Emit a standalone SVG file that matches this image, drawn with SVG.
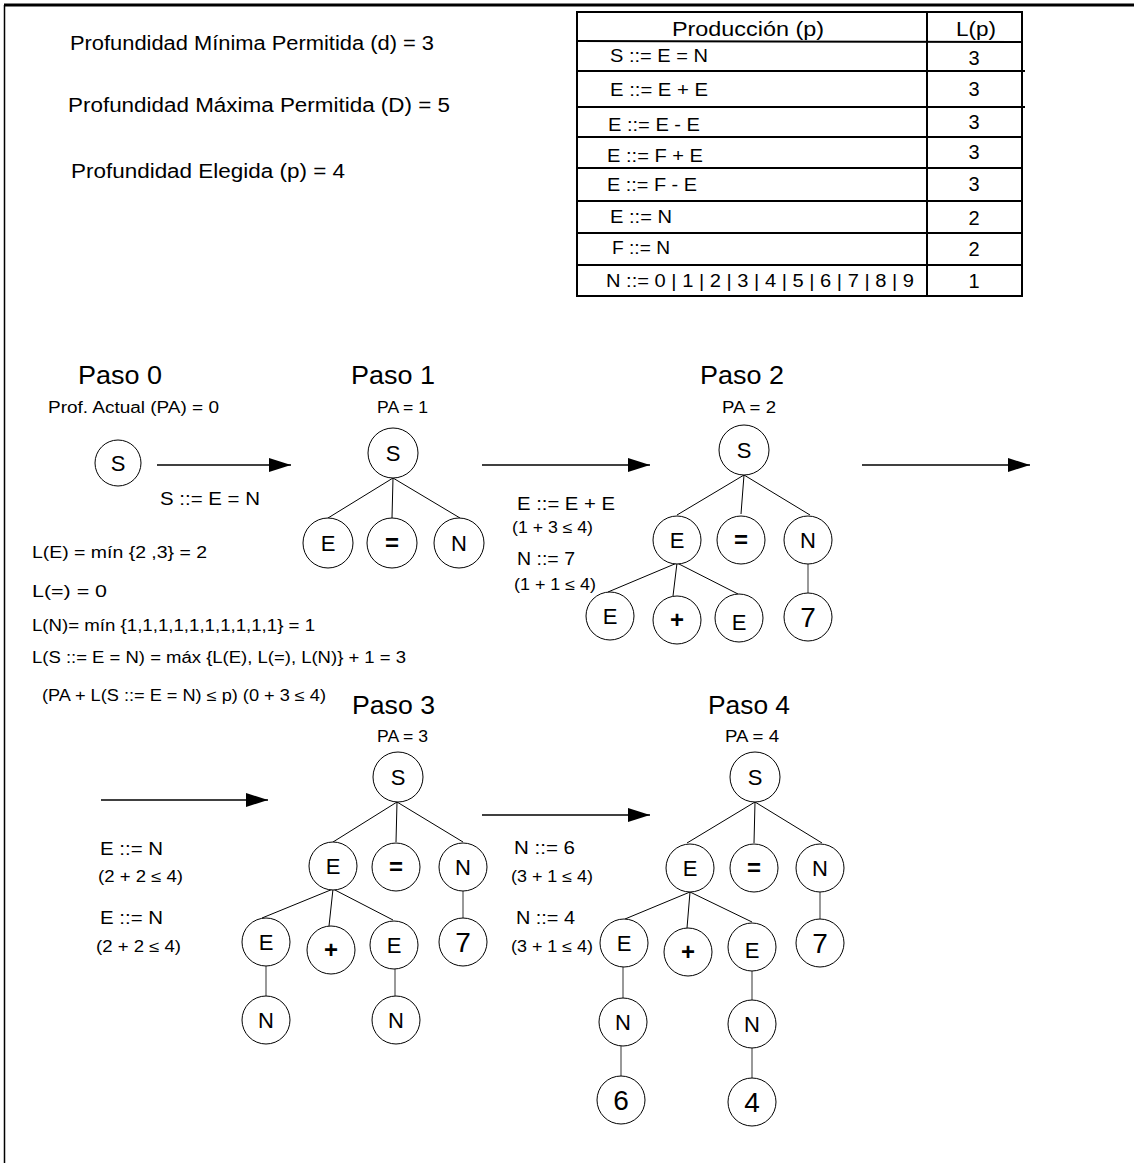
<svg xmlns="http://www.w3.org/2000/svg" width="1134" height="1163" viewBox="0 0 1134 1163">
<style>
text{font-family:"Liberation Sans",Arial,sans-serif;fill:#000}
.n circle{fill:#fff;stroke:#000;stroke-width:1}
.n text{font-size:22px;text-anchor:middle}
.n text.big{font-size:28px}
.n text.op{font-size:24px;font-weight:bold}
.e{stroke:#000;stroke-width:1;fill:none}
.g{stroke:#555;stroke-width:1.2;fill:none}
.arr{stroke:#000;stroke-width:1.5;fill:none;marker-end:url(#ah)}
.t20{font-size:20px}
.t18{font-size:18px}
.t16{font-size:16px}
.paso{font-size:25px}
.tl{stroke:#000;stroke-width:2;fill:none}
</style>
<defs>
<marker id="ah" markerWidth="22" markerHeight="14" refX="22" refY="7" orient="auto" markerUnits="userSpaceOnUse">
<path d="M0,0 L22,7 L0,14 Z" fill="#000"/>
</marker>
</defs>
<rect width="1134" height="1163" fill="#fff"/>
<g id="frame">
<line x1="4" y1="5" x2="1134" y2="5" stroke="#000" stroke-width="3"/>
<line x1="4.5" y1="5" x2="4.5" y2="1163" stroke="#000" stroke-width="1.5"/>
</g>
<g id="params">
<text class="t20" x="70" y="50" textLength="364" lengthAdjust="spacingAndGlyphs">Profundidad Mínima Permitida (d) =  3</text>
<text class="t20" x="68" y="112" textLength="382" lengthAdjust="spacingAndGlyphs">Profundidad Máxima Permitida (D) = 5</text>
<text class="t20" x="71" y="178" textLength="274" lengthAdjust="spacingAndGlyphs">Profundidad Elegida (p) = 4</text>
</g>
<g id="table">
<rect class="tl" x="577" y="12" width="445" height="284"/>
<line class="tl" x1="927" y1="12" x2="927" y2="296"/>
<line class="tl" x1="577" y1="41" x2="1022" y2="42"/>
<line class="tl" x1="577" y1="71" x2="1025" y2="71"/>
<line class="tl" x1="577" y1="107" x2="1025" y2="107"/>
<line class="tl" x1="577" y1="137" x2="1022" y2="137"/>
<line class="tl" x1="577" y1="168" x2="1022" y2="168"/>
<line class="tl" x1="577" y1="201" x2="1022" y2="201"/>
<line class="tl" x1="577" y1="233" x2="1022" y2="233"/>
<line class="tl" x1="577" y1="265" x2="1022" y2="265"/>
<text class="t20" x="672" y="36" textLength="152" lengthAdjust="spacingAndGlyphs">Producción  (p)</text>
<text class="t20" x="956" y="36" textLength="40" lengthAdjust="spacingAndGlyphs">L(p)</text>
<text class="t18" x="610" y="62" textLength="98" lengthAdjust="spacingAndGlyphs">S ::= E = N</text>
<text class="t18" x="610" y="96" textLength="98" lengthAdjust="spacingAndGlyphs">E ::= E + E</text>
<text class="t18" x="608" y="131" textLength="92" lengthAdjust="spacingAndGlyphs">E ::= E - E</text>
<text class="t18" x="607" y="162" textLength="96" lengthAdjust="spacingAndGlyphs">E ::= F + E</text>
<text class="t18" x="607" y="191" textLength="90" lengthAdjust="spacingAndGlyphs">E ::= F - E</text>
<text class="t18" x="610" y="223" textLength="62" lengthAdjust="spacingAndGlyphs">E ::= N</text>
<text class="t18" x="612" y="254" textLength="58" lengthAdjust="spacingAndGlyphs">F ::= N</text>
<text class="t18" x="606" y="287" textLength="308" lengthAdjust="spacingAndGlyphs">N ::= 0 | 1 | 2 | 3 | 4 | 5 | 6 | 7 | 8 | 9</text>
<g class="t20" text-anchor="middle">
<text x="974" y="65">3</text>
<text x="974" y="96">3</text>
<text x="974" y="129">3</text>
<text x="974" y="159">3</text>
<text x="974" y="191">3</text>
<text x="974" y="225">2</text>
<text x="974" y="256">2</text>
<text x="974" y="288">1</text>
</g>
</g>
<g id="labels">
<text class="paso" x="78" y="384" textLength="84" lengthAdjust="spacingAndGlyphs">Paso 0</text>
<text class="t16" x="48" y="413" textLength="171" lengthAdjust="spacingAndGlyphs">Prof. Actual  (PA) = 0</text>
<text class="t18" x="160" y="505" textLength="100" lengthAdjust="spacingAndGlyphs">S ::= E = N</text>
<text class="t16" x="32" y="558" textLength="175" lengthAdjust="spacingAndGlyphs">L(E) = mín {2 ,3} = 2</text>
<text class="t16" x="32" y="597" textLength="75" lengthAdjust="spacingAndGlyphs">L(=) = 0</text>
<text class="t16" x="32" y="631" textLength="283" lengthAdjust="spacingAndGlyphs">L(N)= mín {1,1,1,1,1,1,1,1,1,1} = 1</text>
<text class="t16" x="32" y="663" textLength="374" lengthAdjust="spacingAndGlyphs">L(S ::= E = N) = máx {L(E), L(=), L(N)} + 1 = 3</text>
<text class="t16" x="42" y="701" textLength="284" lengthAdjust="spacingAndGlyphs">(PA + L(S ::= E = N) ≤ p) (0 + 3 ≤ 4)</text>
<text class="paso" x="351" y="384" textLength="84" lengthAdjust="spacingAndGlyphs">Paso 1</text>
<text class="t16" x="377" y="413" textLength="51" lengthAdjust="spacingAndGlyphs">PA = 1</text>
<text class="paso" x="700" y="384" textLength="84" lengthAdjust="spacingAndGlyphs">Paso 2</text>
<text class="t16" x="722" y="413" textLength="54" lengthAdjust="spacingAndGlyphs">PA = 2</text>
<text class="t18" x="517" y="510" textLength="98" lengthAdjust="spacingAndGlyphs">E ::= E + E</text>
<text class="t16" x="512" y="533" textLength="81" lengthAdjust="spacingAndGlyphs">(1 + 3 ≤ 4)</text>
<text class="t18" x="517" y="565" textLength="58" lengthAdjust="spacingAndGlyphs">N ::= 7</text>
<text class="t16" x="514" y="590" textLength="82" lengthAdjust="spacingAndGlyphs">(1 + 1 ≤ 4)</text>
<text class="paso" x="352" y="714" textLength="83" lengthAdjust="spacingAndGlyphs">Paso 3</text>
<text class="t16" x="377" y="742" textLength="51" lengthAdjust="spacingAndGlyphs">PA = 3</text>
<text class="t18" x="100" y="855" textLength="63" lengthAdjust="spacingAndGlyphs">E ::= N</text>
<text class="t16" x="98" y="882" textLength="85" lengthAdjust="spacingAndGlyphs">(2 + 2 ≤ 4)</text>
<text class="t18" x="100" y="924" textLength="63" lengthAdjust="spacingAndGlyphs">E ::= N</text>
<text class="t16" x="96" y="952" textLength="85" lengthAdjust="spacingAndGlyphs">(2 + 2 ≤ 4)</text>
<text class="paso" x="708" y="714" textLength="82" lengthAdjust="spacingAndGlyphs">Paso 4</text>
<text class="t16" x="725" y="742" textLength="54" lengthAdjust="spacingAndGlyphs">PA = 4</text>
<text class="t18" x="514" y="854" textLength="61" lengthAdjust="spacingAndGlyphs">N ::= 6</text>
<text class="t16" x="511" y="882" textLength="82" lengthAdjust="spacingAndGlyphs">(3 + 1 ≤ 4)</text>
<text class="t18" x="516" y="924" textLength="59" lengthAdjust="spacingAndGlyphs">N ::= 4</text>
<text class="t16" x="511" y="952" textLength="82" lengthAdjust="spacingAndGlyphs">(3 + 1 ≤ 4)</text>
</g>
<g id="connectors">
<line class="arr" x1="157" y1="465" x2="291" y2="465"/>
<line class="arr" x1="482" y1="465" x2="650" y2="465"/>
<line class="arr" x1="862" y1="465" x2="1030" y2="465"/>
<line class="arr" x1="101" y1="800" x2="268" y2="800"/>
<line class="arr" x1="482" y1="815" x2="650" y2="815"/>
<path class="e" d="M393,478 L328,518 M393,478 L392,518 M393,478 L460,518"/>
<path class="e" d="M744,475 L677,515 M744,475 L741,514 M744,475 L810,515"/>
<path class="e" d="M677,563 L608,592 M677,563 L673,596 M677,563 L738,594"/>
<line class="g" x1="808" y1="564" x2="808" y2="593"/>
<path class="e" d="M397,802 L333,842 M397,802 L396,842 M397,802 L463,842"/>
<path class="e" d="M333,889 L262,918 M333,889 L329,926 M333,889 L393,920"/>
<line class="g" x1="463" y1="891" x2="463" y2="918"/>
<line class="g" x1="266" y1="966" x2="266" y2="996"/>
<line class="g" x1="395" y1="969" x2="395" y2="996"/>
<path class="e" d="M755,802 L687,843 M755,802 L754,843 M755,802 L822,843"/>
<path class="e" d="M690,892 L625,919 M690,892 L687,928 M690,892 L752,922"/>
<line class="g" x1="820" y1="892" x2="820" y2="919"/>
<line class="g" x1="623" y1="967" x2="623" y2="998"/>
<line class="g" x1="752" y1="971" x2="752" y2="1000"/>
<line class="g" x1="621" y1="1046" x2="621" y2="1076"/>
<line class="g" x1="752" y1="1048" x2="752" y2="1078"/>
</g>
<g id="p0-S" class="n"><circle cx="118" cy="463" r="23"/><text x="118" y="471">S</text></g>
<g id="p1-S" class="n"><circle cx="393" cy="453" r="25"/><text x="393" y="461">S</text></g>
<g id="p1-E" class="n"><circle cx="328" cy="543" r="25"/><text x="328" y="551">E</text></g>
<g id="p1-eq" class="n"><circle cx="392" cy="543" r="25"/><text class="op" x="392" y="551">=</text></g>
<g id="p1-N" class="n"><circle cx="459" cy="543" r="25"/><text x="459" y="551">N</text></g>
<g id="p2-S" class="n"><circle cx="744" cy="450" r="25"/><text x="744" y="458">S</text></g>
<g id="p2-E" class="n"><circle cx="677" cy="540" r="24"/><text x="677" y="548">E</text></g>
<g id="p2-eq" class="n"><circle cx="741" cy="540" r="24"/><text class="op" x="741" y="548">=</text></g>
<g id="p2-N" class="n"><circle cx="808" cy="540" r="24"/><text x="808" y="548">N</text></g>
<g id="p2-E1" class="n"><circle cx="610" cy="616" r="24"/><text x="610" y="624">E</text></g>
<g id="p2-plus" class="n"><circle cx="677" cy="620" r="24"/><text class="op" x="677" y="628">+</text></g>
<g id="p2-E2" class="n"><circle cx="739" cy="618" r="24"/><text x="739" y="630">E</text></g>
<g id="p2-7" class="n"><circle cx="808" cy="617" r="24"/><text class="big" x="808" y="627">7</text></g>
<g id="p3-S" class="n"><circle cx="398" cy="777" r="25"/><text x="398" y="785">S</text></g>
<g id="p3-E" class="n"><circle cx="333" cy="866" r="24"/><text x="333" y="874">E</text></g>
<g id="p3-eq" class="n"><circle cx="396" cy="867" r="24"/><text class="op" x="396" y="875">=</text></g>
<g id="p3-N" class="n"><circle cx="463" cy="867" r="24"/><text x="463" y="875">N</text></g>
<g id="p3-E1" class="n"><circle cx="266" cy="942" r="24"/><text x="266" y="950">E</text></g>
<g id="p3-plus" class="n"><circle cx="331" cy="950" r="24"/><text class="op" x="331" y="958">+</text></g>
<g id="p3-E2" class="n"><circle cx="394" cy="945" r="24"/><text x="394" y="953">E</text></g>
<g id="p3-7" class="n"><circle cx="463" cy="942" r="24"/><text class="big" x="463" y="952">7</text></g>
<g id="p3-N1" class="n"><circle cx="266" cy="1020" r="24"/><text x="266" y="1028">N</text></g>
<g id="p3-N2" class="n"><circle cx="396" cy="1020" r="24"/><text x="396" y="1028">N</text></g>
<g id="p4-S" class="n"><circle cx="755" cy="777" r="25"/><text x="755" y="785">S</text></g>
<g id="p4-E" class="n"><circle cx="690" cy="868" r="24"/><text x="690" y="876">E</text></g>
<g id="p4-eq" class="n"><circle cx="754" cy="868" r="24"/><text class="op" x="754" y="876">=</text></g>
<g id="p4-N" class="n"><circle cx="820" cy="868" r="24"/><text x="820" y="876">N</text></g>
<g id="p4-E1" class="n"><circle cx="624" cy="943" r="24"/><text x="624" y="951">E</text></g>
<g id="p4-plus" class="n"><circle cx="688" cy="952" r="24"/><text class="op" x="688" y="960">+</text></g>
<g id="p4-E2" class="n"><circle cx="752" cy="947" r="24"/><text x="752" y="958">E</text></g>
<g id="p4-7" class="n"><circle cx="820" cy="943" r="24"/><text class="big" x="820" y="953">7</text></g>
<g id="p4-N1" class="n"><circle cx="623" cy="1022" r="24"/><text x="623" y="1030">N</text></g>
<g id="p4-N2" class="n"><circle cx="752" cy="1024" r="24"/><text x="752" y="1032">N</text></g>
<g id="p4-6" class="n"><circle cx="621" cy="1100" r="24"/><text class="big" x="621" y="1110">6</text></g>
<g id="p4-4" class="n"><circle cx="752" cy="1102" r="24"/><text class="big" x="752" y="1112">4</text></g>
</svg>
